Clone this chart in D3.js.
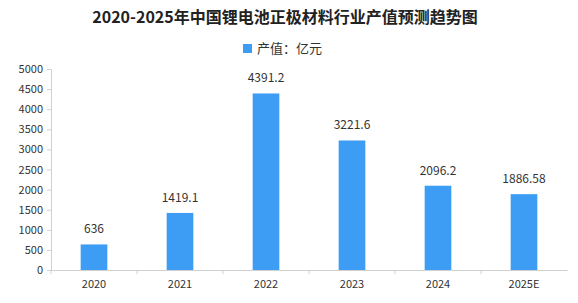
<!DOCTYPE html>
<html>
<head>
<meta charset="utf-8">
<script src="https://cdn.jsdelivr.net/npm/d3@7"></script>
<style>
  body { margin: 0; background: #fff; }
  text { font-family: "Noto Sans CJK SC", "DejaVu Sans", sans-serif; }
</style>
</head>
<body>
<svg id="viz"></svg>
<script>
var years = ["2020", "2021", "2022", "2023", "2024", "2025E"];
var values = [636, 1419.1, 4391.2, 3221.6, 2096.2, 1886.58];
var labels = ["636", "1419.1", "4391.2", "3221.6", "2096.2", "1886.58"];
var yTicks = [0, 500, 1000, 1500, 2000, 2500, 3000, 3500, 4000, 4500, 5000];

var width = 578, height = 303;
var margin = {top: 69, right: 11, bottom: 33, left: 51};
var barColor = "#3d9cf4";

var svg = d3.select("#viz").attr("width", width).attr("height", height);

var x = d3.scaleBand().domain(years)
    .range([margin.left, width - margin.right])
    .paddingInner(0.69).paddingOuter(0.345);
var y = d3.scaleLinear().domain([0, 5000])
    .range([height - margin.bottom, margin.top]);

// title
svg.append("text")
    .attr("x", 285).attr("y", 23)
    .attr("text-anchor", "middle")
    .style("font-size", "16px").style("font-weight", "bold")
    .attr("fill", "#222")
    .text("2020-2025年中国锂电池正极材料行业产值预测趋势图");

// legend
svg.append("rect").attr("x", 243).attr("y", 44).attr("width", 9).attr("height", 9).attr("fill", barColor);
svg.append("text").attr("x", 257).attr("y", 53)
    .style("font-size", "13px").attr("fill", "#333")
    .text("产值：亿元");

// y axis
var yAxis = svg.append("g")
    .attr("transform", "translate(" + margin.left + ",0)")
    .call(d3.axisLeft(y).tickValues(yTicks).tickFormat(d3.format("d")).tickSize(4).tickPadding(4));
yAxis.select(".domain").attr("stroke", "#d0d0d0");
yAxis.selectAll(".tick line").attr("stroke", "#d0d0d0");
yAxis.selectAll("text").style("font-size", "11px").attr("fill", "#333");

// x axis
var xAxis = svg.append("g")
    .attr("transform", "translate(0," + (height - margin.bottom) + ")")
    .call(d3.axisBottom(x).tickSize(0).tickPadding(10));
xAxis.select(".domain").attr("stroke", "#d0d0d0");
xAxis.selectAll("text").style("font-size", "11px").attr("fill", "#333");

// category separators
var step = x.step();
xAxis.selectAll(".sep")
    .data(years)
    .enter().append("line")
    .attr("class", "sep")
    .attr("x1", function(d) { return x(d) - x.paddingOuter() * step; })
    .attr("x2", function(d) { return x(d) - x.paddingOuter() * step; })
    .attr("y1", 0).attr("y2", 4)
    .attr("stroke", "#d0d0d0");

// bars
svg.selectAll(".bar")
    .data(values)
    .enter().append("rect")
    .attr("class", "bar")
    .attr("x", function(d, i) { return x(years[i]); })
    .attr("y", function(d) { return y(d); })
    .attr("width", x.bandwidth())
    .attr("height", function(d) { return y(0) - y(d); })
    .attr("fill", barColor);

// value labels
svg.selectAll(".lbl")
    .data(values)
    .enter().append("text")
    .attr("class", "lbl")
    .attr("x", function(d, i) { return x(years[i]) + x.bandwidth() / 2; })
    .attr("y", function(d) { return y(d) - 11; })
    .attr("text-anchor", "middle")
    .style("font-size", "12px").attr("fill", "#333")
    .text(function(d, i) { return labels[i]; });
</script>
</body>
</html>
